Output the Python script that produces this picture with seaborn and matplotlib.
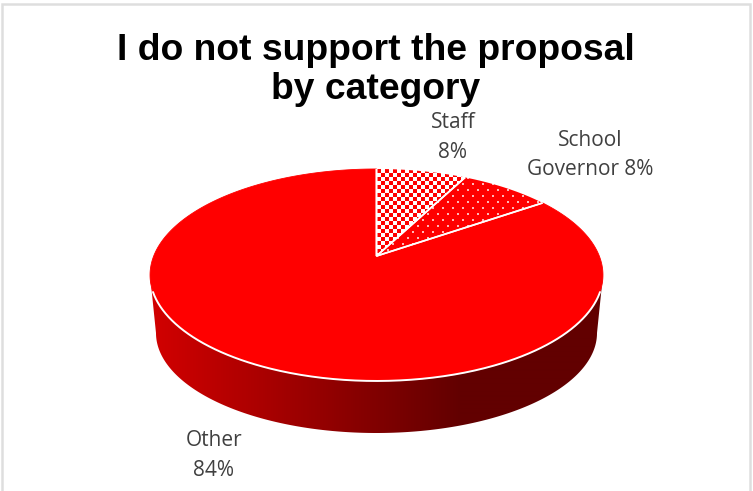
import numpy as np
import matplotlib
matplotlib.use("Agg")
import matplotlib.pyplot as plt
from matplotlib.colors import LinearSegmentedColormap, to_rgb
from matplotlib.patches import Polygon
import seaborn as sns

# ---- data ----
categories = ["Staff", "School Governor", "Other"]
shares = [7.6, 7.7, 84.4]
label_lines = ["Staff\n{}%", "School\nGovernor {}%", "Other\n{}%"]
title_text = "I do not support the proposal\nby category"

sns.set_theme(style="white")
plt.rcParams["font.family"] = ["Open Sans", "DejaVu Sans"]

RED, DARK, LIGHT_EDGE, TXT = "#ff0000", "#620000", "#d00000", "#404040"

fig = plt.figure(figsize=(7.53, 4.91), dpi=100, facecolor="white")
ax = fig.add_axes([0, 0, 1, 1])

# Tilted-disc projection (perspective) of the unit pie onto pixel space
CX, AY, A, B, K = 376.5, 256.0, 222.8, 102.6, 0.179


def project(theta_deg, r=1.0):
    t = np.radians(theta_deg)
    x, y = r * np.cos(t), r * np.sin(t)
    w = 1 + K * y
    return CX + A * x / w, AY - B * y / w


# The library lays out the slice angles from the values
wedges, _ = ax.pie(shares, startangle=90, counterclock=False, radius=1, center=(0, 0))
angles = [(w.theta1, w.theta2) for w in wedges]
for w in wedges:
    w.remove()


def wedge_poly(t1, t2):
    th = np.linspace(t1, t2, 300)
    xs, ys = project(th)
    return np.column_stack([np.r_[CX, xs], np.r_[AY, ys]])


ax.set_xlim(0, 753)
ax.set_ylim(491, 0)
ax.set_aspect("auto")
ax.axis("off")

# Side wall of the disc
WALL_CY, WALL_A, WALL_B = 333.0, 220.5, 100.0
top_th = np.linspace(180 + 10.3, 360 - 10.3, 300)
tx, ty = project(top_th)
low = np.radians(np.linspace(360, 180, 300))
bx, by = CX + WALL_A * np.cos(low), WALL_CY - WALL_B * np.sin(low)
wall = Polygon(np.column_stack([np.r_[tx, bx], np.r_[ty, by]]), closed=True,
               transform=ax.transData, fc="none", ec="none")
ax.add_patch(wall)
grad_cmap = LinearSegmentedColormap.from_list("wall", [LIGHT_EDGE, DARK])
grad = np.clip((np.arange(140, 620) - 156) / (461 - 156), 0, 1)[None, :]
im = ax.imshow(grad, cmap=grad_cmap, extent=(140, 620, 440, 270), aspect="auto",
               interpolation="bilinear", zorder=1, vmin=0, vmax=1)
im.set_clip_path(wall)

# Pixel-sized fill textures
r_rgb, w_rgb = np.array(to_rgb(RED)), np.ones(3)


def checker_texture(x0, x1, y0, y1, cell=4):
    yy, xx = np.mgrid[y0:y1, x0:x1]
    mask = (((xx - x0) // cell + (yy - y0) // cell) % 2).astype(bool)
    return np.where(mask[..., None], r_rgb, w_rgb)


def dots_texture(x0, x1, y0, y1, dx=10, dy=6):
    yy, xx = np.mgrid[y0:y1, x0:x1]
    row = (yy - y0) // dy
    on = ((xx - x0 + (row % 2) * dx // 2) % dx < 2) & ((yy - y0) % dy < 2)
    return np.where(on[..., None], np.array([1.0, 0.72, 0.72]), r_rgb)


textures = [checker_texture, dots_texture, None]
for (t1, t2), tex in zip(angles, textures):
    pts = wedge_poly(t1, t2)
    if tex is None:
        ax.add_patch(Polygon(pts, closed=True, fc=RED, ec=RED, lw=0.6, zorder=2.3))
    else:
        ext = (377, 560, 165, 262)
        img = ax.imshow(tex(ext[0], ext[1], ext[2], ext[3]),
                        extent=(ext[0], ext[1], ext[3], ext[2]), aspect="auto",
                        interpolation="bilinear", zorder=2.1)
        clip = Polygon(pts, closed=True, transform=ax.transData, fc="none", ec="none")
        ax.add_patch(clip)
        img.set_clip_path(clip)
    ax.plot(pts[[1, 0, -1], 0], pts[[1, 0, -1], 1], color="white", lw=1.2, zorder=2.4,
            solid_capstyle="butt", solid_joinstyle="miter")

# White rim along the front edge
rx, ry = project(np.linspace(199.3, 340.7, 300))
ax.plot(rx, ry, color="white", lw=1.4, zorder=2.5)

# Chart frame
ax.plot([2.5, 2.5, 750, 750], [491, 3.5, 3.5, 491], color="#dedede", lw=1.8, zorder=0,
        solid_joinstyle="miter")

# Title
ax.text(376, 70, title_text, ha="center", va="center", fontsize=26.8, fontweight="bold",
        color="black", family="Liberation Sans", linespacing=1.17, zorder=3)

# Data labels
rounded = [int(round(s)) for s in shares]
positions = [(453, 137.5), (590, 155), (214, 455.5)]
for fmt, val, (lx, ly) in zip(label_lines, rounded, positions):
    ax.text(lx, ly, fmt.format(val), ha="center", va="center", fontsize=15,
            color=TXT, linespacing=1.55, zorder=3)

fig.savefig("out.png", dpi=100, facecolor="white")
